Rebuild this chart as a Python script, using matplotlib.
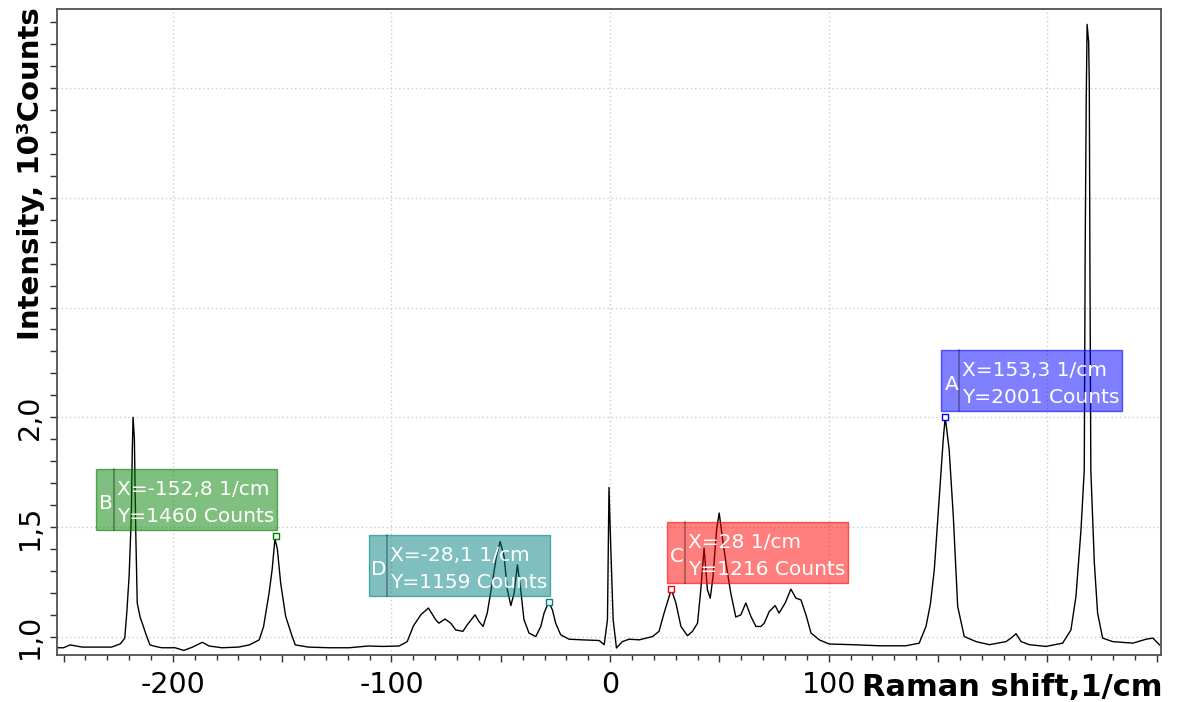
import numpy as np
import matplotlib
matplotlib.use('Agg')
import matplotlib.pyplot as plt
from matplotlib.patches import Rectangle
from matplotlib.ticker import MultipleLocator, FuncFormatter
from matplotlib.transforms import IdentityTransform
from matplotlib.colors import to_rgba

# Raman spectrum: shift in 1/cm, intensity in 10^3 counts
shift = [
    -253.5, -250, -247, -241.5, -235.5, -228, -224, -222, -221, -220,
    -219, -218.6, -218.2, -217.6, -217, -216.3, -215, -214, -212.5, -210.5,
    -208, -205, -199, -195, -191, -186.5, -183.5, -177.5, -170, -165,
    -160.5, -158.5, -156, -154.6, -153.3, -152.2, -150.7, -148.4, -145.4, -144,
    -138, -128.5, -119.5, -110.5, -104, -96.5, -92.8, -90, -86.6, -83.1,
    -79.8, -78.3, -75.5, -72.9, -70.6, -67.3, -65.3, -61.8, -60, -58.1,
    -56.2, -53.9, -52, -50.3, -48.5, -47, -45.4, -43.9, -42.4, -40.9,
    -39.4, -37.1, -34, -31.7, -30.2, -28.1, -26.4, -24.9, -22.6, -18.8,
    -12.7, -5, -2.7, -1.2, -0.5, 0.3, 1.4, 2.9, 5.6, 8.7,
    13.3, 19.4, 22.4, 24.7, 28, 30.1, 32.4, 35.4, 37.7, 40,
    41.5, 43, 44.5, 45.8, 47.1, 48.7, 49.9, 51.1, 53, 55.2,
    57.5, 59.8, 62.1, 64.4, 66.7, 69, 70.5, 72.8, 75.5, 77.3,
    80.1, 82.7, 85, 87.3, 89.6, 91.9, 95.7, 100.2, 110.9, 123.1,
    135.3, 141.4, 144.5, 146.5, 148.3, 150.6, 152.4, 153.3, 155.1, 157,
    159, 162, 167.4, 173.5, 181.1, 183.4, 185.7, 188, 191.8, 199.4,
    207, 210.8, 213.1, 215.4, 216.9, 217.3, 217.8, 218.2, 218.9, 219.2,
    219.5, 219.9, 221.5, 223, 225.3, 229.9, 239.1, 245.2, 248.3, 251.3,
    252.5,
]
intensity = [
    0.950, 0.950, 0.963, 0.953, 0.953, 0.953, 0.968, 0.994, 1.120, 1.280,
    1.550, 1.830, 2.000, 1.900, 1.490, 1.154, 1.090, 1.062, 1.017, 0.963,
    0.956, 0.950, 0.950, 0.938, 0.953, 0.975, 0.958, 0.950, 0.953, 0.963,
    0.986, 1.047, 1.199, 1.305, 1.446, 1.400, 1.245, 1.093, 1.001, 0.963,
    0.953, 0.950, 0.950, 0.958, 0.956, 0.958, 0.978, 1.049, 1.100, 1.131,
    1.078, 1.062, 1.081, 1.062, 1.031, 1.025, 1.055, 1.100, 1.070, 1.047,
    1.108, 1.245, 1.366, 1.434, 1.366, 1.215, 1.142, 1.199, 1.328, 1.215,
    1.078, 1.017, 1.001, 1.047, 1.108, 1.159, 1.123, 1.062, 1.009, 0.989,
    0.986, 0.983, 0.964, 1.078, 1.680, 1.410, 1.078, 0.949, 0.978, 0.989,
    0.986, 1.001, 1.025, 1.108, 1.216, 1.154, 1.047, 1.005, 1.025, 1.062,
    1.215, 1.404, 1.215, 1.176, 1.275, 1.487, 1.564, 1.472, 1.336, 1.199,
    1.090, 1.100, 1.154, 1.093, 1.047, 1.047, 1.062, 1.115, 1.142, 1.108,
    1.154, 1.217, 1.176, 1.168, 1.100, 1.017, 0.986, 0.967, 0.964, 0.959,
    0.959, 0.971, 1.047, 1.148, 1.305, 1.640, 1.900, 2.001, 1.852, 1.548,
    1.138, 1.001, 0.978, 0.964, 0.978, 0.994, 1.014, 0.978, 0.964, 0.956,
    0.971, 1.031, 1.184, 1.487, 1.760, 2.730, 3.450, 3.790, 3.710, 3.520,
    2.660, 1.760, 1.338, 1.108, 0.994, 0.978, 0.971, 0.989, 0.994, 0.963,
    0.960,
]

# cursor markers
cursor_names = ['A', 'B', 'C', 'D']
cursor_x = [153.3, -152.8, 28.0, -28.1]
cursor_counts = [2001, 1460, 1216, 1159]
cursor_xtext = ['153,3', '-152,8', '28', '-28,1']
cursor_colors = ['#0000ff', '#008000', '#ff0000', '#008080']
cursor_side = ['right', 'left', 'right', 'left']

xtick_labels = [-200, -100, 0, 100]
ytick_labels = [1.0, 1.5, 2.0]

W, H = 1178, 702
fig = plt.figure(figsize=(W / 100, H / 100), dpi=100)
ax = fig.add_axes([57 / W, 1 - 655 / H, (1161 - 57) / W, (655 - 9) / H])

ax.plot(shift, intensity, color='black', lw=1.0, zorder=2)
ax.set_xlim(-253, 252)
ax.set_ylim(0.917, 3.86)

# ticks
ax.xaxis.set_major_locator(MultipleLocator(50))
ax.xaxis.set_minor_locator(MultipleLocator(10))
ax.xaxis.set_major_formatter(FuncFormatter(
    lambda v, p: '%d' % round(v) if round(v) in xtick_labels else ''))
ax.yaxis.set_major_locator(MultipleLocator(0.5))
ax.yaxis.set_minor_locator(MultipleLocator(0.1))
ax.yaxis.set_major_formatter(FuncFormatter(
    lambda v, p: ('%.1f' % v).replace('.', ',')
    if any(abs(v - t) < 1e-6 for t in ytick_labels) else ''))

ax.tick_params(axis='both', which='both', direction='out', color='#303030', width=1)
ax.tick_params(axis='x', which='major', length=5, pad=6.5, labelsize=20.5)
ax.tick_params(axis='x', which='minor', length=3.3)
ax.tick_params(axis='y', which='major', length=5, pad=4.5, labelsize=20.5, labelrotation=90)
ax.tick_params(axis='y', which='minor', length=5)
for lab in ax.get_yticklabels():
    lab.set_va('center')

for s in ax.spines.values():
    s.set_color('#505050')
    s.set_linewidth(1.3)

# dotted grid
ax.grid(axis='y', which='major', color='#cccccc', linestyle=(0, (1, 2)), lw=1)
for gx in [-200, -100, 0, 100, 200]:
    ax.axvline(gx, color='#cccccc', linestyle=(0, (1, 2)), lw=1, zorder=0.5)

# axis titles
fig.text(1162 / W, 6 / H, 'Raman shift,1/cm', ha='right', va='baseline',
         fontsize=22, fontweight='bold')
fig.text(31 / W, 1 - 340 / H, 'Intensity, 10³Counts', rotation=90,
         ha='center', va='bottom', fontsize=21, fontweight='bold')

# cursor boxes
bw, bh, lw_box = 181, 61, 18
for name, cx, cnt, xt, col, side in zip(cursor_names, cursor_x, cursor_counts,
                                        cursor_xtext, cursor_colors, cursor_side):
    cy = cnt / 1000
    ax.plot(cx, cy, marker='s', ms=4, mfc='white', mec=col, mew=1, zorder=5)
    px, py = ax.transData.transform((cx, cy))
    left = px - 4 if side == 'right' else px - bw + 1
    bottom = py + 6
    ax.add_patch(Rectangle((left, bottom), bw, bh, transform=IdentityTransform(),
                           facecolor=to_rgba(col, 0.5), edgecolor=to_rgba(col, 0.6),
                           lw=1, zorder=3))
    ax.plot([left + lw_box, left + lw_box], [bottom, bottom + bh],
            transform=IdentityTransform(), color=(0, 0, 0, 0.35), lw=1.2, zorder=3.5)
    ax.text(left + lw_box / 2 + 1, bottom + bh / 2 - 4, name, transform=IdentityTransform(),
            ha='center', va='center', color='white', fontsize=14.5, zorder=4)
    ax.text(left + lw_box + 3, bottom + bh - 26, 'X=%s 1/cm' % xt,
            transform=IdentityTransform(), ha='left', va='baseline',
            color='white', fontsize=14.5, zorder=4)
    ax.text(left + lw_box + 3, bottom + bh - 53, 'Y=%d Counts' % cnt,
            transform=IdentityTransform(), ha='left', va='baseline',
            color='white', fontsize=14.5, zorder=4)

fig.savefig('out.png', dpi=100)
